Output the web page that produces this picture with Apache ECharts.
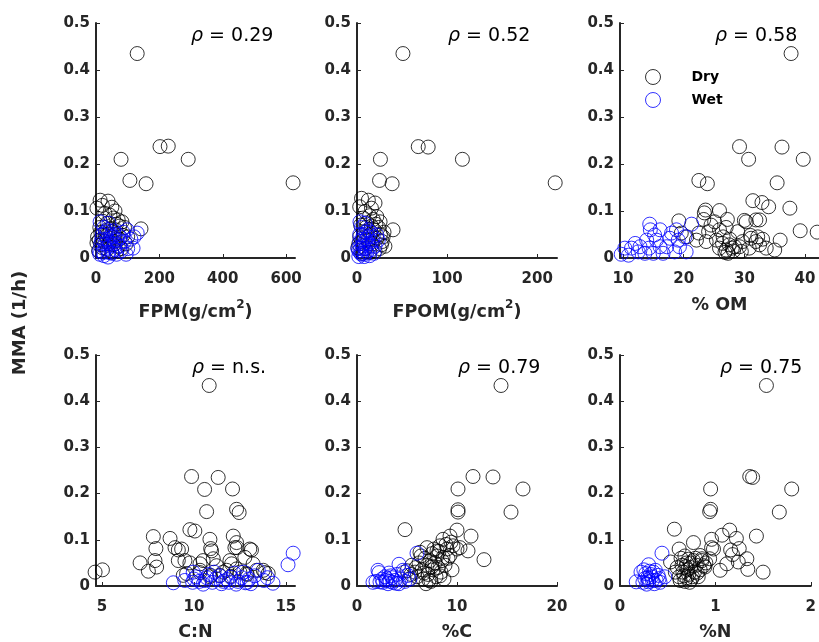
<!DOCTYPE html>
<html>
<head>
<meta charset="utf-8">
<script src="https://cdn.jsdelivr.net/npm/echarts@6/dist/echarts.min.js"></script>
<style>html,body{margin:0;padding:0;background:#fff;}#c{width:819px;height:642px;}</style>
</head>
<body>
<div id="c"></div>
<script>
// ---------------- DATA ----------------
const yTicks = [0, 0.1, 0.2, 0.3, 0.4, 0.5];
const panelNames = ['FPM(g/cm{s|2})', 'FPOM(g/cm{s|2})', '% OM', 'C:N', '%C', '%N'];
const rhoLabels = ['0.29', '0.52', '0.58', 'n.s.', '0.79', '0.75'];
const xTicks = [[0,200,400,600],[0,100,200],[10,20,30,40],[5,10,15],[0,10,20],[0,1,2]];
const xRanges = [[0,628],[0,222],[9.5,42.3],[4.67,15.5],[0,20],[0,2]];

const fpmDry = [[130,0.435],[202,0.237],[228,0.238],[79,0.21],[291,0.21],[107,0.165],[158,0.158],[622,0.16],[142,0.062],
 [13,0.123],[38,0.121],[3,0.106],[60,0.100],[44,0.091],[70,0.081],[82,0.077],[35,0.074],[20,0.112],[50,0.108],[28,0.095],
 [55,0.085],[65,0.072],[75,0.068],[90,0.065],[45,0.062],[30,0.058],[15,0.055],[60,0.05],[85,0.048],[100,0.045],[5,0.045],
 [3,0.032],[10,0.038],[25,0.035],[40,0.03],[55,0.028],[70,0.025],[20,0.022],[35,0.018],[8,0.015],[50,0.012],[65,0.015],
 [80,0.02],[15,0.028],[95,0.03],[45,0.042],[30,0.048],[12,0.065],[22,0.078],[62,0.06],[74,0.04],[58,0.035],[38,0.05]];
const fpmWet = [[13,0.077],[41,0.074],[98,0.060],[130,0.053],[117,0.021],[76,0.045],[25,0.065],[55,0.058],[70,0.05],[110,0.04],
 [90,0.035],[60,0.03],[35,0.04],[20,0.05],[15,0.03],[45,0.025],[30,0.02],[10,0.015],[50,0.01],[80,0.015],[65,0.008],[25,0.005],
 [40,0.012],[100,0.02],[120,0.045],[85,0.055],[18,0.04],[55,0.045],[35,0.06],[28,0.03],[75,0.025],[42,0.035],[60,0.018],
 [22,0.012],[95,0.008],[48,0.05],[12,0.008],[38,0.002],[66,0.038],[30,0.055]];

const fpomDry = [[51,0.435],[68,0.237],[79,0.236],[26,0.21],[117,0.21],[25,0.165],[39,0.158],[220,0.16],[40,0.06],
 [5,0.127],[12.6,0.123],[20,0.117],[3,0.109],[16,0.106],[9,0.099],[22,0.088],[25.6,0.077],[29,0.045],[27,0.028],[14,0.09],
 [18,0.082],[7,0.085],[11,0.075],[4,0.07],[24,0.065],[30,0.055],[19,0.06],[8,0.055],[15,0.05],[22,0.042],[12,0.038],[5,0.035],
 [2,0.03],[17,0.03],[25,0.02],[9,0.02],[20,0.015],[14,0.012],[6,0.01],[28,0.035],[26,0.05],[3,0.045],[10,0.065],[21,0.072],
 [16,0.068],[31,0.025],[1,0.022]];
const fpomWet = [[3.3,0.077],[8.9,0.074],[22,0.049],[23.7,0.038],[5,0.065],[12,0.06],[15,0.055],[7,0.05],[18,0.045],[10,0.04],
 [3,0.035],[13,0.03],[20,0.025],[6,0.025],[9,0.02],[16,0.018],[2,0.015],[11,0.012],[5,0.008],[14,0.005],[8,0.003],[4,0.01],
 [1,0.02],[17,0.035],[12,0.045],[7,0.03],[19,0.01],[3,0.05],[10,0.055],[6,0.04],[2,0.003],[9,0.008],[15,0.025],[4,0.02]];

const omDry = [[37.7,0.435],[29.2,0.237],[36.2,0.236],[30.7,0.21],[39.7,0.21],[22.5,0.165],[23.9,0.158],[35.4,0.16],[39.2,0.058],[42,0.055],
 [31.4,0.122],[32.9,0.118],[34.0,0.109],[37.5,0.106],[23.6,0.102],[25.9,0.101],[23.4,0.096],[19.2,0.079],[23.3,0.082],[25.1,0.077],
 [27.2,0.082],[30.3,0.077],[31.9,0.081],[24.1,0.056],[25.9,0.060],[27.0,0.065],[28.9,0.056],[22.5,0.053],[19.6,0.053],[22.1,0.038],
 [23.7,0.035],[25.4,0.038],[26.4,0.031],[27.5,0.028],[28.4,0.024],[29.7,0.035],[31.1,0.042],[31.9,0.035],[33.6,0.021],[35.9,0.038],
 [35.0,0.017],[25.9,0.021],[27.0,0.017],[28.0,0.021],[29.2,0.024],[32.5,0.028],[30.8,0.021],[26.5,0.045],[32.2,0.045],[28.2,0.015],
 [27.6,0.04],[24.5,0.07],[20.5,0.045],[33,0.04],[26.8,0.012],[30.0,0.080],[32.5,0.081],[31.0,0.048],[27.3,0.010],[29.5,0.014]];
const omWet = [[9.7,0.008],[10.9,0.006],[11.4,0.021],[12.5,0.013],[12.0,0.031],[13.6,0.010],[14.3,0.021],[14.4,0.072],[14.5,0.060],
 [15.2,0.049],[15.5,0.038],[16.1,0.024],[13.9,0.038],[12.8,0.024],[17.7,0.042],[18.0,0.053],[18.8,0.060],[19.3,0.024],[20.2,0.045],
 [20.4,0.013],[21.3,0.072],[17.2,0.024],[18.5,0.013],[16.6,0.010],[15.0,0.010],[10.3,0.021],[19.1,0.038],[16.1,0.060]];

const cnDry = [[10.83,0.434],[9.87,0.237],[11.32,0.235],[10.58,0.209],[12.10,0.210],[10.69,0.161],[12.32,0.166],[12.46,0.159],
 [4.62,0.030],[5.02,0.035],[7.79,0.107],[8.70,0.103],[7.93,0.081],[7.07,0.050],[7.52,0.032],[7.88,0.055],[7.97,0.041],
 [9.78,0.122],[10.05,0.119],[10.87,0.101],[8.97,0.083],[9.33,0.080],[9.15,0.055],[9.51,0.055],[10.91,0.081],[12.14,0.108],
 [12.32,0.094],[12.35,0.083],[13.13,0.078],[12.77,0.062],[13.22,0.048],[13.77,0.034],[14.04,0.027],[11.05,0.059],[11.23,0.044],
 [10.33,0.048],[11.96,0.055],[11.59,0.030],[12.5,0.030],[10.33,0.029],[9.6,0.027],[10.9,0.023],[12.0,0.021],[12.9,0.025],
 [9.15,0.078],[10.96,0.076],[10.5,0.055],[10.33,0.034],[12.23,0.083],[13.04,0.080],[12.05,0.048],[11.78,0.034],[12.32,0.037],
 [12.86,0.027],[13.86,0.029],[13.41,0.034],[9.42,0.023],[9.78,0.050],[11.41,0.023],[10.87,0.020]];
const cnWet = [[8.88,0.007],[9.96,0.030],[9.93,0.008],[10.3,0.010],[10.6,0.012],[11.2,0.016],[11.6,0.010],[12.0,0.019],[12.4,0.010],
 [12.8,0.007],[13.5,0.034],[14.3,0.006],[15.12,0.046],[15.4,0.071],[12.9,0.008],[10.1,0.020],[10.8,0.025],[11.0,0.008],[11.4,0.022],
 [11.8,0.014],[12.2,0.028],[12.6,0.018],[13.0,0.015],[13.3,0.022],[13.8,0.012],[10.5,0.004],[11.5,0.005],[12.3,0.004],[10.0,0.015],
 [11.1,0.030],[12.7,0.030],[13.1,0.005],[14.0,0.018],[9.5,0.012],[10.7,0.018],[11.9,0.008]];

const cDry = [[14.4,0.434],[11.6,0.237],[13.6,0.236],[10.1,0.21],[16.6,0.21],[10.1,0.165],[10.1,0.160],[15.4,0.160],[4.8,0.122],
 [11.4,0.108],[11.1,0.076],[12.7,0.057],[10.0,0.121],[9.3,0.108],[8.6,0.101],[8.3,0.087],[9.6,0.087],[10.0,0.080],[9.3,0.066],
 [7.0,0.083],[6.3,0.073],[5.5,0.045],[5.8,0.03],[6.0,0.02],[6.2,0.05],[6.5,0.035],[6.6,0.015],[6.8,0.06],[7.0,0.045],[7.1,0.025],
 [7.3,0.055],[7.4,0.01],[7.5,0.07],[7.6,0.035],[7.8,0.05],[7.9,0.02],[8.0,0.065],[8.1,0.04],[8.2,0.075],[8.4,0.03],[8.5,0.055],
 [8.7,0.015],[8.8,0.045],[9.0,0.08],[9.1,0.06],[9.4,0.095],[8.9,0.09],[5.2,0.015],[5.4,0.025],[6.9,0.005],[7.7,0.08],[6.4,0.065],
 [5.9,0.04],[7.2,0.012],[8.3,0.022],[9.5,0.035],[6.7,0.028],[7.5,0.042],[8.6,0.062],[5.0,0.033],[10.3,0.083],[8.0,0.076]];
const cWet = [[1.6,0.008],[2.1,0.034],[2.2,0.029],[3.0,0.016],[3.3,0.010],[3.8,0.012],[4.2,0.047],[4.6,0.034],[5.1,0.023],[6.0,0.071],
 [2.6,0.008],[2.3,0.009],[3.9,0.006],[2.8,0.02],[3.1,0.005],[3.5,0.018],[4.0,0.025],[4.4,0.015],[4.8,0.01],[2.5,0.015],[3.6,0.008],
 [4.2,0.005],[5.3,0.015],[2.9,0.012],[3.4,0.022],[4.7,0.03],[1.9,0.01],[3.2,0.028]];

const nDry = [[1.535,0.434],[1.36,0.237],[1.39,0.235],[1.80,0.21],[0.95,0.21],[0.94,0.161],[0.95,0.166],[1.67,0.160],[0.57,0.123],
 [1.15,0.121],[1.07,0.110],[1.22,0.103],[1.43,0.108],[0.96,0.101],[0.96,0.083],[0.77,0.094],[1.16,0.078],[1.25,0.081],[1.18,0.068],
 [1.33,0.059],[1.24,0.052],[1.12,0.048],[1.05,0.034],[1.34,0.036],[1.50,0.030],[0.88,0.044],[0.62,0.080],[0.53,0.052],[0.94,0.059],
 [0.84,0.066],[0.6,0.04],[0.62,0.02],[0.64,0.06],[0.66,0.03],[0.68,0.01],[0.7,0.05],[0.72,0.025],[0.74,0.04],[0.75,0.015],[0.77,0.055],
 [0.78,0.03],[0.8,0.045],[0.82,0.02],[0.84,0.035],[0.86,0.055],[0.65,0.045],[0.68,0.065],[0.71,0.035],[0.73,0.008],[0.76,0.02],
 [0.79,0.06],[0.58,0.03],[0.63,0.012],[0.69,0.042],[0.72,0.058],[0.81,0.028],[0.9,0.05],[0.67,0.022],[0.74,0.05],[0.7,0.018],
 [0.98,0.080],[0.86,0.059],[0.89,0.041]];
const nWet = [[0.17,0.009],[0.22,0.030],[0.30,0.046],[0.37,0.034],[0.44,0.071],[0.40,0.023],[0.41,0.016],[0.26,0.016],[0.30,0.009],
 [0.34,0.012],[0.47,0.020],[0.29,0.018],[0.25,0.035],[0.32,0.025],[0.36,0.005],[0.28,0.004],[0.33,0.02],[0.38,0.012],[0.31,0.032],
 [0.24,0.008],[0.35,0.03],[0.27,0.027],[0.42,0.008],[0.3,0.014]];

const dryData = [fpmDry, fpomDry, omDry, cnDry, cDry, nDry];
const wetData = [fpmWet, fpomWet, omWet, cnWet, cWet, nWet];

// ---------------- LAYOUT ----------------
const gridBoxes = [
  {left:96, top:23, width:199, height:235},
  {left:357, top:23, width:200, height:235},
  {left:620, top:23, width:199, height:235},
  {left:96, top:355, width:199, height:236},
  {left:357, top:355, width:200, height:236},
  {left:620, top:355, width:199, height:236}
];
const rhoPos = [[191,27],[448,27],[715,27],[192,359],[458,359],[720,359]];
const nameGaps = [41, 41, 38, 37, 37, 37];

const AX = '#262626';
const FONT = 'DejaVu Sans';
const grids = [], xAxes = [], yAxes = [], series = [], titles = [];
for (let i = 0; i < 6; i++) {
  grids.push(Object.assign({containLabel:false}, gridBoxes[i]));
  xAxes.push({
    type:'value', gridIndex:i, min:xRanges[i][0], max:xRanges[i][1],
    name: panelNames[i], nameLocation:'middle', nameGap:nameGaps[i],
    nameTextStyle:{fontFamily:FONT, fontWeight:'bold', fontSize:17.5, color:AX,
      rich:{s:{fontFamily:FONT, fontWeight:'bold', fontSize:12, color:AX, padding:[0,0,14,0]}}},
    axisLine:{onZero:false, lineStyle:{color:AX, width:2}},
    axisTick:{inside:true, length:4, customValues:xTicks[i], lineStyle:{color:AX, width:1}},
    axisLabel:{customValues:xTicks[i], margin:14, fontFamily:FONT, fontWeight:'bold', fontSize:15, color:AX},
    splitLine:{show:false}
  });
  yAxes.push({
    type:'value', gridIndex:i, min:0, max:0.5,
    axisLine:{show:true, onZero:false, lineStyle:{color:AX, width:2}},
    axisTick:{show:true, inside:true, length:4, customValues:yTicks, lineStyle:{color:AX, width:1}},
    axisLabel:{customValues:yTicks, margin:6, fontFamily:FONT, fontWeight:'bold', fontSize:15, color:AX},
    splitLine:{show:false}
  });
  series.push({
    type:'scatter', name:'Dry', xAxisIndex:i, yAxisIndex:i, data:dryData[i],
    symbol:'circle', symbolSize:14, clip:false,
    itemStyle:{color:'rgba(0,0,0,0)', borderColor:'#000000', borderWidth:1},
    emphasis:{disabled:true}
  });
  series.push({
    type:'scatter', name:'Wet', xAxisIndex:i, yAxisIndex:i, data:wetData[i],
    symbol:'circle', symbolSize:14, clip:false,
    itemStyle:{color:'rgba(0,0,0,0)', borderColor:'#0000ff', borderWidth:1},
    emphasis:{disabled:true}
  });
  titles.push({
    text:'{r|ρ} = ' + rhoLabels[i], left:rhoPos[i][0], top:rhoPos[i][1], padding:0,
    textStyle:{fontFamily:FONT, fontWeight:'normal', fontSize:19, color:'#000',
      rich:{r:{fontFamily:FONT, fontStyle:'italic', fontWeight:'normal', fontSize:19, color:'#000'}}}
  });
}

const chart = echarts.init(document.getElementById('c'), null, {renderer:'canvas'});
chart.setOption({
  animation:false,
  backgroundColor:'#ffffff',
  title: titles,
  legend:{
    data:['Dry','Wet'], orient:'vertical', left:640, top:64, itemWidth:15, itemHeight:15, itemGap:7,
    icon:'circle',
    itemStyle:{color:'rgba(0,0,0,0)', borderWidth:1},
    textStyle:{fontFamily:FONT, fontWeight:'bold', fontSize:14, color:'#000', padding:[0,0,0,26]}
  },
  grid: grids, xAxis: xAxes, yAxis: yAxes, series: series,
  graphic:[{
    type:'text', x:20, y:323, rotation:Math.PI/2,
    style:{text:'MMA (1/h)', fontFamily:FONT, fontWeight:'bold', fontSize:18, fill:AX, align:'center', verticalAlign:'middle'}
  }]
});
</script>
</body>
</html>
